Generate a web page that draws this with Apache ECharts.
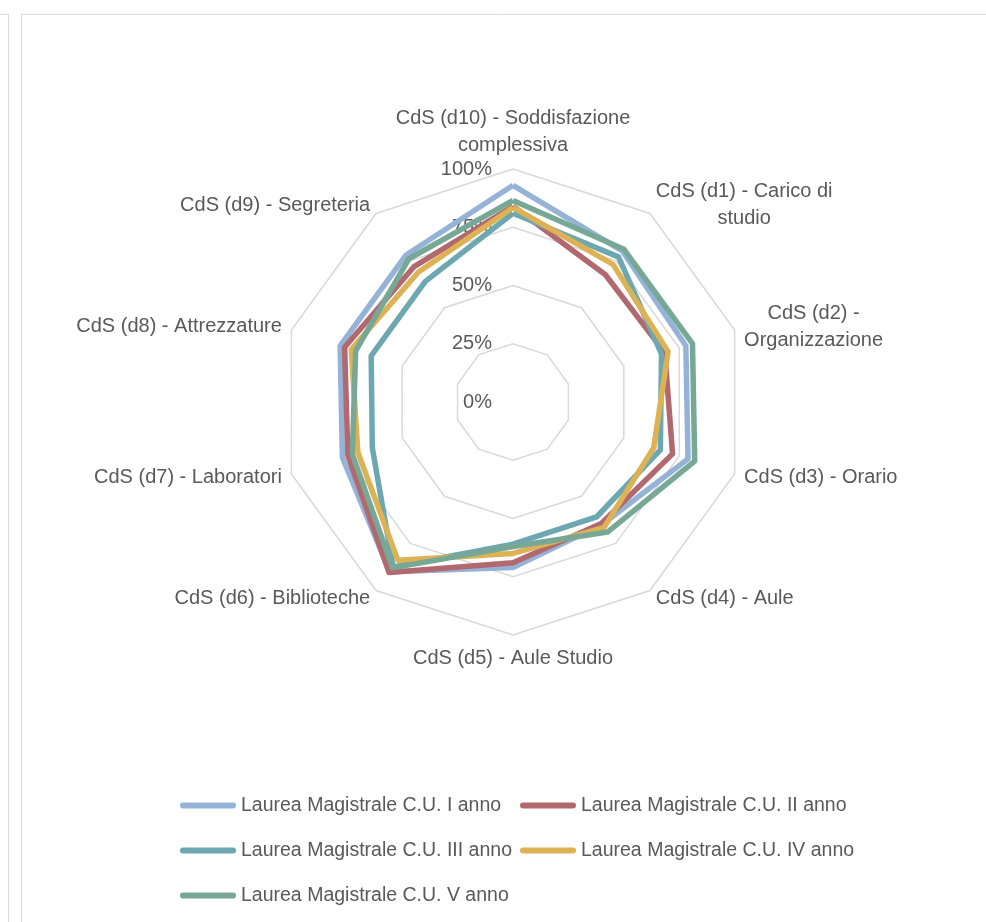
<!DOCTYPE html>
<html>
<head>
<meta charset="utf-8">
<script src="https://cdn.jsdelivr.net/npm/echarts@6/dist/echarts.min.js"></script>
<style>
html,body{margin:0;padding:0;background:#fff;}
#chart{width:986px;height:922px;}
</style>
</head>
<body>
<div id="chart"></div>
<script>
// Indicators listed counter-clockwise from the top (ECharts order): d10, d9, ..., d1
var indicatorNames = [
  'CdS (d10) - Soddisfazione\ncomplessiva',
  'CdS (d9) - Segreteria',
  'CdS (d8) - Attrezzature',
  'CdS (d7) - Laboratori',
  'CdS (d6) - Biblioteche',
  'CdS (d5) - Aule Studio',
  'CdS (d4) - Aule',
  'CdS (d3) - Orario',
  '{c|CdS (d2) -}\n{c|Organizzazione}',
  '{c|CdS (d1) - Carico di}\n{c|studio}'
];
var tickLabels = ['0%', '25%', '50%', '75%', '100%'];
var seriesNames = [
  'Laurea Magistrale C.U. I anno',
  'Laurea Magistrale C.U. II anno',
  'Laurea Magistrale C.U. III anno',
  'Laurea Magistrale C.U. IV anno',
  'Laurea Magistrale C.U. V anno'
];
// values in indicator order: d10, d9, d8, d7, d6, d5, d4, d3, d2, d1
var annoI   = [93, 78, 78, 77, 90, 71, 65, 79, 78, 80];
var annoII  = [84, 72, 76, 74.5, 90.5, 69, 64.5, 72, 68.5, 67.5];
var annoIII = [81, 64, 64, 63.5, 87.5, 61, 61, 66.5, 67, 77];
var annoIV  = [83.5, 69, 73, 70, 84, 65, 66.5, 63.5, 70, 73];
var annoV   = [86.5, 76, 71, 72.5, 88, 62, 69, 82, 81, 81];

var colors = ['#95B3D7', '#B2686F', '#6DA7B1', '#DCB255', '#77A896'];
var FONT = "'Liberation Sans Narrow', 'Arial Narrow', 'Liberation Sans', Arial, sans-serif";
var FS = 20;
var allData = [annoI, annoII, annoIII, annoIV, annoV];

var chart = echarts.init(document.getElementById('chart'), null, {renderer: 'canvas'});

var indicators = indicatorNames.map(function (n, i) {
  var o = {name: n, min: 0, max: 100};
  if (i === 0) o.axisLabel = {show: true};
  return o;
});

var option = {
  backgroundColor: '#ffffff',
  animation: false,
  color: colors,
  graphic: [
    {type: 'line', shape: {x1: 0, y1: 14.5, x2: 8, y2: 14.5}, style: {stroke: '#D9D9D9', lineWidth: 1}},
    {type: 'line', shape: {x1: 8.5, y1: 14, x2: 8.5, y2: 922}, style: {stroke: '#D9D9D9', lineWidth: 1}},
    {type: 'line', shape: {x1: 21.5, y1: 14.5, x2: 986, y2: 14.5}, style: {stroke: '#D9D9D9', lineWidth: 1}},
    {type: 'line', shape: {x1: 21.5, y1: 14, x2: 21.5, y2: 922}, style: {stroke: '#D9D9D9', lineWidth: 1}}
  ],
  legend: {
    left: 175,
    top: 782,
    width: 700,
    padding: 5,
    itemWidth: 56,
    itemHeight: 6,
    itemGap: 8,
    icon: 'path://M3,0L53,0A3,3,0,0,1,53,6L3,6A3,3,0,0,1,3,0Z',
    data: seriesNames,
    formatter: function (n) { return '{t|' + n + '}'; },
    textStyle: {
      color: '#595959',
      fontFamily: FONT,
      fontSize: 19.5,
      lineHeight: 37,
      rich: {
        t: {width: 271, height: 37, color: '#595959', fontFamily: FONT, fontSize: 19.5, lineHeight: 37}
      }
    }
  },
  radar: {
    center: [513, 402],
    radius: 233,
    startAngle: 90,
    shape: 'polygon',
    splitNumber: 4,
    axisNameGap: 10,
    axisName: {
      color: '#595959',
      fontFamily: FONT,
      fontSize: FS,
      lineHeight: 27,
      rich: {
        c: {align: 'center', color: '#595959', fontFamily: FONT, fontSize: FS, lineHeight: 27}
      }
    },
    axisLine: {show: false},
    axisTick: {show: false},
    axisLabel: {
      show: false,
      color: '#595959',
      fontFamily: FONT,
      fontSize: FS,
      margin: 21,
      formatter: function (v) { return tickLabels[Math.round(v / 25)]; }
    },
    splitLine: {lineStyle: {color: '#D9D9D9', width: 1.5}},
    splitArea: {show: false},
    indicator: indicators
  },
  series: seriesNames.map(function (n, i) {
    return {
      name: n,
      type: 'radar',
      symbol: 'none',
      silent: true,
      lineStyle: {width: 5.5, color: colors[i], join: 'round'},
      itemStyle: {color: colors[i]},
      z: 2 + i,
      data: [{value: allData[i], name: n}]
    };
  })
};
chart.setOption(option);
</script>
</body>
</html>
